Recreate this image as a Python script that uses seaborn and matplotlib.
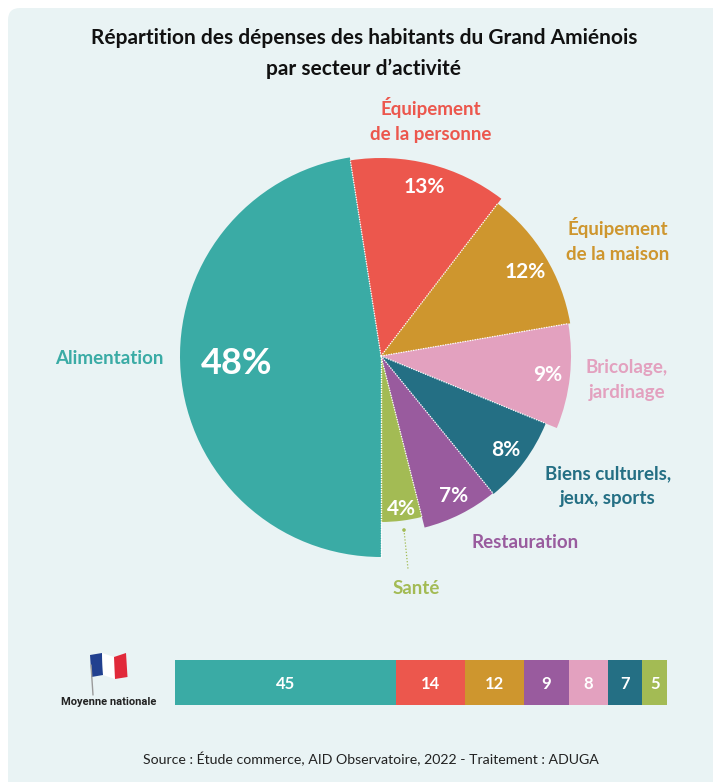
import numpy as np
import matplotlib
matplotlib.use("Agg")
import matplotlib.pyplot as plt
from matplotlib.patches import FancyBboxPatch, Polygon, Circle
import seaborn as sns

# Spending shares for the Grand Amiénois
sectors = ["Alimentation", "Équipement de la personne", "Équipement de la maison",
           "Bricolage, jardinage", "Biens culturels, jeux, sports", "Restauration", "Santé"]
shares = [48, 13, 12, 9, 8, 7, 4]
sector_colors = ["#3aaba5", "#ec574d", "#ce962e", "#e3a1bf", "#246f84", "#995b9e", "#a3bb54"]
slice_radii = [201, 198, 192, 190, 178, 177, 166]

# National average, shown as a stacked bar
national_values = [45, 14, 12, 9, 8, 7, 5]
national_colors = ["#3aaba5", "#ec574d", "#ce962e", "#995b9e", "#e3a1bf", "#246f84", "#a3bb54"]

W, H = 713, 782
sns.set_theme(style="white")
plt.rcParams["font.family"] = ["Lato", "DejaVu Sans"]

fig = plt.figure(figsize=(W / 100, H / 100), dpi=100, facecolor="white")


def pixel_axes(x0, y0, x1, y1):
    return fig.add_axes([x0 / W, 1 - y1 / H, (x1 - x0) / W, (y1 - y0) / H])


# Rounded panel behind everything
bg = fig.add_axes([0, 0, 1, 1])
bg.set_xlim(0, W)
bg.set_ylim(H, 0)
bg.axis("off")
bg.add_patch(FancyBboxPatch((8, 8), 760, 800, boxstyle="round,pad=0,rounding_size=12",
                            fc="#e9f3f4", ec="none", zorder=0))

# Pie: each slice has its own radius, and runs clockwise from the bottom
cx, cy, reach = 381, 356, 210
pie_ax = pixel_axes(cx - reach, cy - reach, cx + reach, cy + reach)
wedges, _ = pie_ax.pie(shares, colors=sector_colors, startangle=270, counterclock=False,
                       radius=1, wedgeprops=dict(linewidth=0))
for wedge, r in zip(wedges, slice_radii):
    wedge.set_radius(r)
pie_ax.set_xlim(-reach, reach)
pie_ax.set_ylim(-reach, reach)
pie_ax.set_aspect("equal")
pie_ax.axis("off")

# Dotted white separators along the slice borders
for wedge, r in zip(wedges, slice_radii):
    a = np.deg2rad(wedge.theta2)
    pie_ax.plot([0, r * np.cos(a)], [0, r * np.sin(a)], color="white", lw=0.9,
                ls=(0, (1, 1)), zorder=5)
pie_ax.plot([0, 0], [0, -slice_radii[0]], color="white", lw=0.9, ls=(0, (1, 1)), zorder=5)

# National stacked bar
bar_ax = pixel_axes(175, 660, 667, 705)
left = 0
for value, color in zip(national_values, national_colors):
    sns.barplot(x=[value], y=["France"], orient="h", color=color, left=left, width=1,
                saturation=1, linewidth=0, ax=bar_ax)
    bar_ax.text(left + value / 2, 0.04, str(value), ha="center", va="center", color="white",
                fontsize=12, fontweight="bold")
    left += value
bar_ax.set_xlim(0, sum(national_values))
bar_ax.set_ylim(0.5, -0.5)
bar_ax.axis("off")

# Foreground layer for every label, in pixel coordinates
fg = fig.add_axes([0, 0, 1, 1])
fg.set_xlim(0, W)
fg.set_ylim(H, 0)
fg.axis("off")
fg.patch.set_alpha(0)

# Title and source
fg.text(364, 38, "Répartition des dépenses des habitants du Grand Amiénois", ha="center", va="center",
        fontsize=15, fontweight="bold", color="#111111")
fg.text(364, 69, "par secteur d’activité", ha="center", va="center",
        fontsize=15, fontweight="bold", color="#111111")
fg.text(371, 759, "Source : Étude commerce, AID Observatoire, 2022 - Traitement : ADUGA",
        ha="center", va="center", fontsize=10.2, color="#222222")

# Category labels around the pie
outer_labels = [
    (109, 359, "Alimentation", sector_colors[0]),
    (431, 120, "Équipement\nde la personne", sector_colors[1]),
    (618, 240, "Équipement\nde la maison", sector_colors[2]),
    (627, 380, "Bricolage,\njardinage", sector_colors[3]),
    (608, 486, "Biens culturels,\njeux, sports", sector_colors[4]),
    (525, 543, "Restauration", sector_colors[5]),
    (416, 588, "Santé", sector_colors[6]),
]
for x, y, label, color in outer_labels:
    fg.text(x, y, label, ha="center", va="center", color=color, fontsize=13.5,
            fontweight="bold", linespacing=1.55)

# Percent labels inside the slices
pct_labels = [(237, 363, 26), (424, 187, 15), (525, 272, 15), (548, 375, 15),
              (506, 450, 15), (454, 496, 15), (401, 509, 15)]
for (x, y, size), share in zip(pct_labels, shares):
    fg.text(x, y, f"{share}%", ha="center", va="center", color="white",
            fontsize=size, fontweight="bold")

# Leader from the Santé label to its slice
fg.plot([404, 408], [530, 569], color=sector_colors[6], lw=0.9, ls=(0, (1, 1.5)))
fg.add_patch(Circle((404, 530), 1.8, fc=sector_colors[6], ec="none"))

# Small French flag beside the bar
fg.plot([91, 93], [665, 695], color="#9a9a9a", lw=1)
flag_top = [(90, 655), (102, 653), (114, 657), (126, 653)]
flag_bot = [(91.5, 677), (103, 675), (115, 679), (127.5, 677)]
for i, c in enumerate(["#21408f", "#ffffff", "#e1293a"]):
    fg.add_patch(Polygon([flag_top[i], flag_top[i + 1], flag_bot[i + 1], flag_bot[i]],
                         closed=True, fc=c, ec="none"))
fg.text(109, 702, "Moyenne nationale", ha="center", va="center", fontsize=8,
        fontweight="bold", color="#222222", family="Roboto")

fig.savefig("out.png", dpi=100, facecolor="white")
